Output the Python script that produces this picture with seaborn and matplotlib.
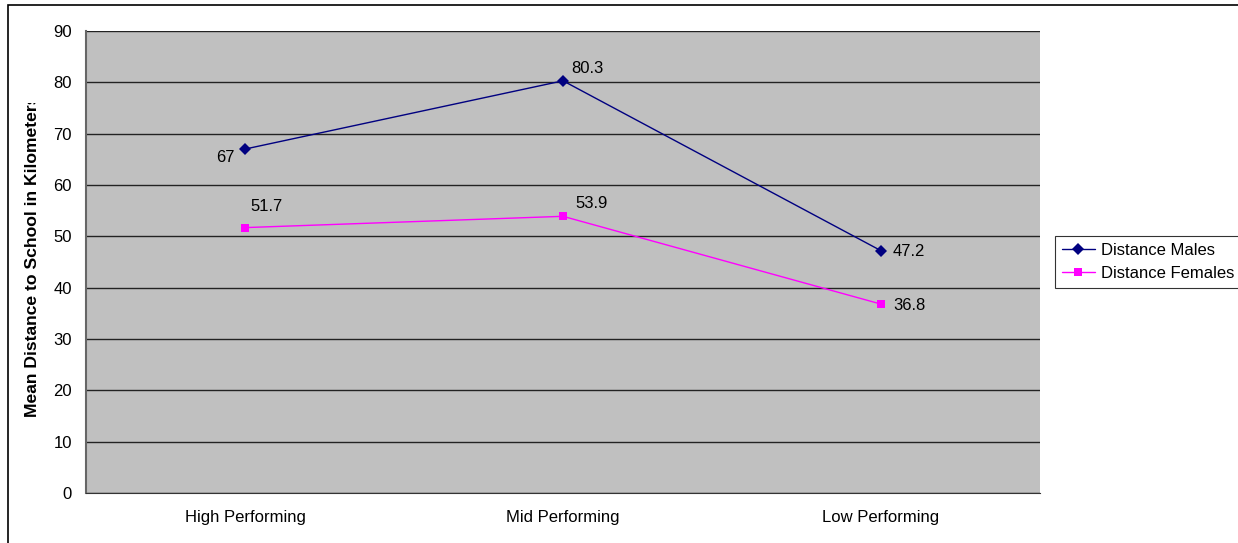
import pandas as pd
import seaborn as sns
import matplotlib.pyplot as plt
from matplotlib.patches import Rectangle
from matplotlib.transforms import Bbox

# Data
categories = ["High Performing", "Mid Performing", "Low Performing"]
males = [67, 80.3, 47.2]
females = [51.7, 53.9, 36.8]

df = pd.DataFrame({
    "pos": list(range(3)) * 2,
    "value": males + females,
    "series": ["Distance Males"] * 3 + ["Distance Females"] * 3,
})

sns.set_style("white")
plt.rcParams['font.family'] = ['Liberation Sans', 'DejaVu Sans']
plt.rcParams['text.color'] = 'black'
plt.rcParams['axes.labelcolor'] = 'black'
plt.rcParams['xtick.color'] = 'black'
plt.rcParams['ytick.color'] = 'black'

W, H = 1238, 543
fig = plt.figure(figsize=(W / 100, H / 100), dpi=100)
ax = fig.add_axes([86 / W, 1 - 493 / H, 954 / W, 462 / H])
ax.set_facecolor('#c0c0c0')

palette = {"Distance Males": "#000080", "Distance Females": "#ff00ff"}
markers = {"Distance Males": "D", "Distance Females": "s"}
sns.lineplot(data=df, x="pos", y="value", hue="series", style="series",
             markers=markers, dashes=False, palette=palette, ax=ax,
             linewidth=1, markersize=6, markeredgewidth=0, errorbar=None)

ax.set_xlim(-0.5, 2.5)
ax.set_ylim(0, 90)
ax.set_yticks(range(0, 91, 10))
ax.set_yticklabels([str(v) for v in range(0, 91, 10)], fontsize=12)
ax.set_xticks([-0.5, 0.5, 1.5, 2.5])
ax.set_xticklabels([])
ax.set_xticks([0, 1, 2], minor=True)
ax.set_xticklabels(categories, minor=True, fontsize=12)
ax.tick_params(axis='x', which='minor', length=0, pad=12)
ax.tick_params(axis='x', which='major', length=5, width=1, color='#555555', direction='out')
ax.tick_params(axis='y', length=5, width=1, color='#333333', direction='out', pad=5)
ax.grid(axis='y', color='#222222', linewidth=1)
ax.set_axisbelow(True)
ax.set_xlabel("")
ax.set_ylabel("")

for s in ['top', 'right']:
    ax.spines[s].set_visible(False)
ax.spines['left'].set_color('#666666')
ax.spines['bottom'].set_color('#333333')
ax.spines['left'].set_linewidth(1.5)

# Y label, clipped at the top like the original
ylab = fig.text(33 / W, 1 - 417 / H, "Mean Distance to School in Kilometers",
                rotation=90, fontsize=12.6, fontweight='bold', ha='center', va='bottom')
ylab.set_clip_box(Bbox.from_extents(0, 0, W, H - 103))
ylab.set_clip_on(True)

# Value labels (offsets in pixels)
offsets = {
    (0, 67): (-10, -8, 'right'), (1, 80.3): (8, 12, 'left'), (2, 47.2): (12, -1, 'left'),
    (0, 51.7): (5, 21, 'left'), (1, 53.9): (12, 13, 'left'), (2, 36.8): (12, -1, 'left'),
}
for vals in [males, females]:
    for i, v in enumerate(vals):
        dx, dy, ha = offsets[(i, v)]
        ax.annotate(f"{v:g}", (i, v), xytext=(dx, dy), textcoords='offset pixels',
                    fontsize=12, ha=ha, va='center', color='black')

# Legend
handles, labels = ax.get_legend_handles_labels()
leg = ax.legend(handles, labels, loc='center left', bbox_to_anchor=(15 / 954, 0.5),
                frameon=True, fancybox=False, fontsize=12, borderpad=0.4,
                handlelength=2.0, handletextpad=0.35, labelspacing=0.5, borderaxespad=0)
leg.set_bbox_to_anchor((1 + 15 / 954, 0.5), transform=ax.transAxes)
leg.get_frame().set_edgecolor('black')
leg.get_frame().set_linewidth(0.8)

# Outer chart border
fig.patches.append(Rectangle((8 / W, -0.1), 1.2, 1 - 5 / H + 0.1, transform=fig.transFigure,
                             fill=False, edgecolor='black', linewidth=1.2))

fig.savefig("out.png", dpi=100)
